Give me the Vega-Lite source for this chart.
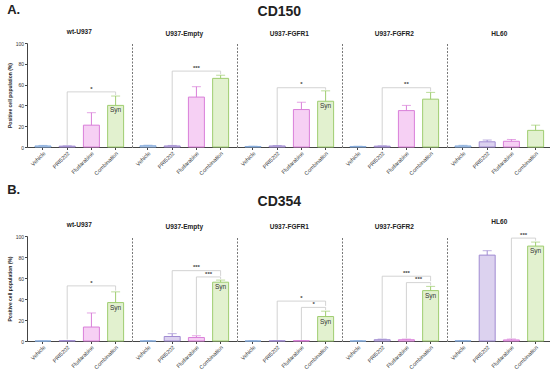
{
"$schema":"https://vega.github.io/schema/vega-lite/v6.json",
"padding":{"left":7,"top":3,"right":0,"bottom":0},
"background":"white",
"config":{"font":"Liberation Sans","view":{"stroke":null},
 "title":{"fontSize":6.5,"fontWeight":"bold","offset":6,"color":"#222"},
 "axis":{"domainColor":"#444","tickColor":"#444","labelColor":"#333","titleColor":"#222","grid":false,"domainWidth":1,"labelOverlap":false},
 "axisY":{"titleFontSize":5,"titleFontWeight":"bold","labelFontSize":5,"tickSize":2.5,"titlePadding":3,"labelPadding":1},
 "axisX":{"labelAngle":-45,"labelFontSize":5.5,"tickSize":2.5,"labelPadding":1,"title":null}},
"datasets":{
"bars":[
{"p":"A","g":"wt-U937","trt":"Vehicle","v":1,"hi":1.5},
{"p":"A","g":"wt-U937","trt":"PRI5202","v":0.8,"hi":1.1},
{"p":"A","g":"wt-U937","trt":"Fludarabine","v":21,"hi":33},
{"p":"A","g":"wt-U937","trt":"Combination","v":40,"hi":49,"syn":true},
{"p":"A","g":"U937-Empty","trt":"Vehicle","v":1.2,"hi":1.7},
{"p":"A","g":"U937-Empty","trt":"PRI5202","v":1,"hi":1.5},
{"p":"A","g":"U937-Empty","trt":"Fludarabine","v":48,"hi":58},
{"p":"A","g":"U937-Empty","trt":"Combination","v":66,"hi":69},
{"p":"A","g":"U937-FGFR1","trt":"Vehicle","v":0.5,"hi":0.8},
{"p":"A","g":"U937-FGFR1","trt":"PRI5202","v":1,"hi":1.4},
{"p":"A","g":"U937-FGFR1","trt":"Fludarabine","v":36,"hi":43},
{"p":"A","g":"U937-FGFR1","trt":"Combination","v":44,"hi":54,"syn":true},
{"p":"A","g":"U937-FGFR2","trt":"Vehicle","v":0.5,"hi":0.8},
{"p":"A","g":"U937-FGFR2","trt":"PRI5202","v":0.8,"hi":1.1},
{"p":"A","g":"U937-FGFR2","trt":"Fludarabine","v":35,"hi":40},
{"p":"A","g":"U937-FGFR2","trt":"Combination","v":46,"hi":52.5},
{"p":"A","g":"HL60","trt":"Vehicle","v":1,"hi":1.6},
{"p":"A","g":"HL60","trt":"PRI5202","v":5,"hi":6.7},
{"p":"A","g":"HL60","trt":"Fludarabine","v":5.5,"hi":7.3},
{"p":"A","g":"HL60","trt":"Combination","v":16,"hi":21},
{"p":"B","g":"wt-U937","trt":"Vehicle","v":0,"hi":0},
{"p":"B","g":"wt-U937","trt":"PRI5202","v":0.3,"hi":0.5},
{"p":"B","g":"wt-U937","trt":"Fludarabine","v":13.3,"hi":26.7},
{"p":"B","g":"wt-U937","trt":"Combination","v":36.6,"hi":46.8,"syn":true},
{"p":"B","g":"U937-Empty","trt":"Vehicle","v":0,"hi":0.2},
{"p":"B","g":"U937-Empty","trt":"PRI5202","v":4.3,"hi":7},
{"p":"B","g":"U937-Empty","trt":"Fludarabine","v":3.3,"hi":5},
{"p":"B","g":"U937-Empty","trt":"Combination","v":56,"hi":58,"syn":true},
{"p":"B","g":"U937-FGFR1","trt":"Vehicle","v":0,"hi":0.2},
{"p":"B","g":"U937-FGFR1","trt":"PRI5202","v":0.2,"hi":0.3},
{"p":"B","g":"U937-FGFR1","trt":"Fludarabine","v":0.3,"hi":0.5},
{"p":"B","g":"U937-FGFR1","trt":"Combination","v":23.3,"hi":28.4,"syn":true},
{"p":"B","g":"U937-FGFR2","trt":"Vehicle","v":0,"hi":0.2},
{"p":"B","g":"U937-FGFR2","trt":"PRI5202","v":1.2,"hi":1.8},
{"p":"B","g":"U937-FGFR2","trt":"Fludarabine","v":1.2,"hi":1.8},
{"p":"B","g":"U937-FGFR2","trt":"Combination","v":48,"hi":52,"syn":true},
{"p":"B","g":"HL60","trt":"Vehicle","v":0.2,"hi":0.3},
{"p":"B","g":"HL60","trt":"PRI5202","v":81.8,"hi":86},
{"p":"B","g":"HL60","trt":"Fludarabine","v":1,"hi":1.8},
{"p":"B","g":"HL60","trt":"Combination","v":90.4,"hi":94.2,"syn":true}
],
"br":[
{"p":"A","g":"wt-U937","from":"PRI5202","to":"Combination","y":53,"ly":2,"ry":50,"s":"*"},
{"p":"A","g":"U937-Empty","from":"PRI5202","to":"Combination","y":73,"ly":2,"ry":70,"s":"***"},
{"p":"A","g":"U937-FGFR1","from":"PRI5202","to":"Combination","y":57,"ly":2,"ry":55,"s":"*"},
{"p":"A","g":"U937-FGFR2","from":"PRI5202","to":"Combination","y":57,"ly":2,"ry":53.5,"s":"**"},
{"p":"B","g":"wt-U937","from":"PRI5202","to":"Combination","y":52.5,"ly":1.5,"ry":48,"s":"*"},
{"p":"B","g":"U937-Empty","from":"PRI5202","to":"Combination","y":67,"ly":8,"ry":62,"s":"***"},
{"p":"B","g":"U937-Empty","from":"Fludarabine","to":"Combination","y":61,"ly":6,"ry":59,"s":"***"},
{"p":"B","g":"U937-FGFR1","from":"PRI5202","to":"Combination","y":38,"ly":1,"ry":33.5,"s":"*"},
{"p":"B","g":"U937-FGFR1","from":"Fludarabine","to":"Combination","y":32,"ly":1,"ry":29.5,"s":"*"},
{"p":"B","g":"U937-FGFR2","from":"PRI5202","to":"Combination","y":61.7,"ly":2.5,"ry":57,"s":"***"},
{"p":"B","g":"U937-FGFR2","from":"Fludarabine","to":"Combination","y":55.6,"ly":2.5,"ry":53,"s":"***"},
{"p":"B","g":"HL60","from":"Fludarabine","to":"Combination","y":98,"ly":2.5,"ry":95.5,"s":"***"}
]},
"spacing":7,
"vconcat":[
{"title":{"text":"A.","anchor":"start","fontSize":13,"offset":-12},
 "vconcat":[{"title":{"text":"CD150","anchor":"middle","fontSize":14,"offset":10},"spacing":0,"hconcat":[
{"width":104.6,"height":104,"title":"wt-U937",
 "encoding":{"x":{"field":"trt","type":"nominal","scale":{"domain":["Vehicle","PRI5202","Fludarabine","Combination"],"paddingInner":0.34,"paddingOuter":0.33},"title":null}},
 "layer":[
  {"data":{"name":"bars"},"transform":[{"filter":"datum.p=='A' && datum.g=='wt-U937'"}],"layer":[
   {"mark":{"type":"bar","strokeWidth":1},"encoding":{"y":{"field":"v","type":"quantitative","scale":{"domain":[0,100]},"title":"Positive cell population (%)","axis":{"values":[0,20,40,60,80,100],"labelOverlap":false,"tickCount":6}},
     "fill":{"field":"trt","type":"nominal","scale":{"domain":["Vehicle","PRI5202","Fludarabine","Combination"],"range":["#cddff2","#dcd2ef","#f6d0f4","#e2f1cf"]},"legend":null},
     "stroke":{"field":"trt","type":"nominal","scale":{"domain":["Vehicle","PRI5202","Fludarabine","Combination"],"range":["#86abdc","#a08bd2","#d97fd9","#9fcd70"]},"legend":null}}},
   {"mark":{"type":"rule","strokeWidth":1},"encoding":{"y":{"field":"v","type":"quantitative","title":"Positive cell population (%)"},"y2":{"field":"hi"},"color":{"field":"trt","type":"nominal","scale":{"domain":["Vehicle","PRI5202","Fludarabine","Combination"],"range":["#86abdc","#a08bd2","#d97fd9","#9fcd70"]},"legend":null}}},
   {"mark":{"type":"tick","size":9,"thickness":1},"encoding":{"y":{"field":"hi","type":"quantitative","title":"Positive cell population (%)"},"color":{"field":"trt","type":"nominal","legend":null}}},
   {"transform":[{"filter":"datum.syn"}],"mark":{"type":"text","text":"Syn","baseline":"top","dy":2,"fontSize":6.5,"color":"#333"},"encoding":{"y":{"field":"v","type":"quantitative","title":"Positive cell population (%)"}}}
  ]},
  {"data":{"name":"br"},"transform":[{"filter":"datum.p=='A' && datum.g=='wt-U937'"}],"layer":[
   {"mark":{"type":"rule","color":"#c8c8c8","strokeWidth":0.8},"encoding":{"x":{"field":"from","type":"nominal","title":null},"x2":{"field":"to"},"y":{"field":"y","type":"quantitative","title":"Positive cell population (%)"}}},
   {"mark":{"type":"rule","color":"#c8c8c8","strokeWidth":0.8},"encoding":{"x":{"field":"from","type":"nominal","title":null},"y":{"field":"y","type":"quantitative","title":"Positive cell population (%)"},"y2":{"field":"ly"}}},
   {"mark":{"type":"rule","color":"#c8c8c8","strokeWidth":0.8},"encoding":{"x":{"field":"to","type":"nominal","title":null},"y":{"field":"y","type":"quantitative","title":"Positive cell population (%)"},"y2":{"field":"ry"}}},
   {"transform":[{"filter":"datum.from=='PRI5202'"}],"mark":{"type":"text","baseline":"bottom","dy":-0.3,"fontSize":6,"fontWeight":"bold","color":"#444"},"encoding":{"x":{"datum":"Fludarabine","type":"nominal","title":null},"y":{"field":"y","type":"quantitative","title":"Positive cell population (%)"},"text":{"field":"s"}}},
   {"transform":[{"filter":"datum.from=='Fludarabine'"}],"mark":{"type":"text","baseline":"bottom","dy":-0.3,"fontSize":6,"fontWeight":"bold","color":"#444"},"encoding":{"x":{"datum":"Fludarabine","type":"nominal","title":null,"bandPosition":1.26},"y":{"field":"y","type":"quantitative","title":"Positive cell population (%)"},"text":{"field":"s"}}}
  ]}
 ]},
{"width":104.6,"height":104,"title":"U937-Empty",
 "encoding":{"x":{"field":"trt","type":"nominal","scale":{"domain":["Vehicle","PRI5202","Fludarabine","Combination"],"paddingInner":0.34,"paddingOuter":0.33},"title":null}},
 "layer":[
  {"data":{"name":"bars"},"transform":[{"filter":"datum.p=='A' && datum.g=='U937-Empty'"}],"layer":[
   {"mark":{"type":"bar","strokeWidth":1},"encoding":{"y":{"field":"v","type":"quantitative","scale":{"domain":[0,100]},"title":null,"axis":{"labels":false,"ticks":false,"domainDash":[2,1.5],"domainColor":"#777"}},
     "fill":{"field":"trt","type":"nominal","scale":{"domain":["Vehicle","PRI5202","Fludarabine","Combination"],"range":["#cddff2","#dcd2ef","#f6d0f4","#e2f1cf"]},"legend":null},
     "stroke":{"field":"trt","type":"nominal","scale":{"domain":["Vehicle","PRI5202","Fludarabine","Combination"],"range":["#86abdc","#a08bd2","#d97fd9","#9fcd70"]},"legend":null}}},
   {"mark":{"type":"rule","strokeWidth":1},"encoding":{"y":{"field":"v","type":"quantitative","title":null},"y2":{"field":"hi"},"color":{"field":"trt","type":"nominal","scale":{"domain":["Vehicle","PRI5202","Fludarabine","Combination"],"range":["#86abdc","#a08bd2","#d97fd9","#9fcd70"]},"legend":null}}},
   {"mark":{"type":"tick","size":9,"thickness":1},"encoding":{"y":{"field":"hi","type":"quantitative","title":null},"color":{"field":"trt","type":"nominal","legend":null}}},
   {"transform":[{"filter":"datum.syn"}],"mark":{"type":"text","text":"Syn","baseline":"top","dy":2,"fontSize":6.5,"color":"#333"},"encoding":{"y":{"field":"v","type":"quantitative","title":null}}}
  ]},
  {"data":{"name":"br"},"transform":[{"filter":"datum.p=='A' && datum.g=='U937-Empty'"}],"layer":[
   {"mark":{"type":"rule","color":"#c8c8c8","strokeWidth":0.8},"encoding":{"x":{"field":"from","type":"nominal","title":null},"x2":{"field":"to"},"y":{"field":"y","type":"quantitative","title":null}}},
   {"mark":{"type":"rule","color":"#c8c8c8","strokeWidth":0.8},"encoding":{"x":{"field":"from","type":"nominal","title":null},"y":{"field":"y","type":"quantitative","title":null},"y2":{"field":"ly"}}},
   {"mark":{"type":"rule","color":"#c8c8c8","strokeWidth":0.8},"encoding":{"x":{"field":"to","type":"nominal","title":null},"y":{"field":"y","type":"quantitative","title":null},"y2":{"field":"ry"}}},
   {"transform":[{"filter":"datum.from=='PRI5202'"}],"mark":{"type":"text","baseline":"bottom","dy":-0.3,"fontSize":6,"fontWeight":"bold","color":"#444"},"encoding":{"x":{"datum":"Fludarabine","type":"nominal","title":null},"y":{"field":"y","type":"quantitative","title":null},"text":{"field":"s"}}},
   {"transform":[{"filter":"datum.from=='Fludarabine'"}],"mark":{"type":"text","baseline":"bottom","dy":-0.3,"fontSize":6,"fontWeight":"bold","color":"#444"},"encoding":{"x":{"datum":"Fludarabine","type":"nominal","title":null,"bandPosition":1.26},"y":{"field":"y","type":"quantitative","title":null},"text":{"field":"s"}}}
  ]}
 ]},
{"width":104.6,"height":104,"title":"U937-FGFR1",
 "encoding":{"x":{"field":"trt","type":"nominal","scale":{"domain":["Vehicle","PRI5202","Fludarabine","Combination"],"paddingInner":0.34,"paddingOuter":0.33},"title":null}},
 "layer":[
  {"data":{"name":"bars"},"transform":[{"filter":"datum.p=='A' && datum.g=='U937-FGFR1'"}],"layer":[
   {"mark":{"type":"bar","strokeWidth":1},"encoding":{"y":{"field":"v","type":"quantitative","scale":{"domain":[0,100]},"title":null,"axis":{"labels":false,"ticks":false,"domainDash":[2,1.5],"domainColor":"#777"}},
     "fill":{"field":"trt","type":"nominal","scale":{"domain":["Vehicle","PRI5202","Fludarabine","Combination"],"range":["#cddff2","#dcd2ef","#f6d0f4","#e2f1cf"]},"legend":null},
     "stroke":{"field":"trt","type":"nominal","scale":{"domain":["Vehicle","PRI5202","Fludarabine","Combination"],"range":["#86abdc","#a08bd2","#d97fd9","#9fcd70"]},"legend":null}}},
   {"mark":{"type":"rule","strokeWidth":1},"encoding":{"y":{"field":"v","type":"quantitative","title":null},"y2":{"field":"hi"},"color":{"field":"trt","type":"nominal","scale":{"domain":["Vehicle","PRI5202","Fludarabine","Combination"],"range":["#86abdc","#a08bd2","#d97fd9","#9fcd70"]},"legend":null}}},
   {"mark":{"type":"tick","size":9,"thickness":1},"encoding":{"y":{"field":"hi","type":"quantitative","title":null},"color":{"field":"trt","type":"nominal","legend":null}}},
   {"transform":[{"filter":"datum.syn"}],"mark":{"type":"text","text":"Syn","baseline":"top","dy":2,"fontSize":6.5,"color":"#333"},"encoding":{"y":{"field":"v","type":"quantitative","title":null}}}
  ]},
  {"data":{"name":"br"},"transform":[{"filter":"datum.p=='A' && datum.g=='U937-FGFR1'"}],"layer":[
   {"mark":{"type":"rule","color":"#c8c8c8","strokeWidth":0.8},"encoding":{"x":{"field":"from","type":"nominal","title":null},"x2":{"field":"to"},"y":{"field":"y","type":"quantitative","title":null}}},
   {"mark":{"type":"rule","color":"#c8c8c8","strokeWidth":0.8},"encoding":{"x":{"field":"from","type":"nominal","title":null},"y":{"field":"y","type":"quantitative","title":null},"y2":{"field":"ly"}}},
   {"mark":{"type":"rule","color":"#c8c8c8","strokeWidth":0.8},"encoding":{"x":{"field":"to","type":"nominal","title":null},"y":{"field":"y","type":"quantitative","title":null},"y2":{"field":"ry"}}},
   {"transform":[{"filter":"datum.from=='PRI5202'"}],"mark":{"type":"text","baseline":"bottom","dy":-0.3,"fontSize":6,"fontWeight":"bold","color":"#444"},"encoding":{"x":{"datum":"Fludarabine","type":"nominal","title":null},"y":{"field":"y","type":"quantitative","title":null},"text":{"field":"s"}}},
   {"transform":[{"filter":"datum.from=='Fludarabine'"}],"mark":{"type":"text","baseline":"bottom","dy":-0.3,"fontSize":6,"fontWeight":"bold","color":"#444"},"encoding":{"x":{"datum":"Fludarabine","type":"nominal","title":null,"bandPosition":1.26},"y":{"field":"y","type":"quantitative","title":null},"text":{"field":"s"}}}
  ]}
 ]},
{"width":104.6,"height":104,"title":"U937-FGFR2",
 "encoding":{"x":{"field":"trt","type":"nominal","scale":{"domain":["Vehicle","PRI5202","Fludarabine","Combination"],"paddingInner":0.34,"paddingOuter":0.33},"title":null}},
 "layer":[
  {"data":{"name":"bars"},"transform":[{"filter":"datum.p=='A' && datum.g=='U937-FGFR2'"}],"layer":[
   {"mark":{"type":"bar","strokeWidth":1},"encoding":{"y":{"field":"v","type":"quantitative","scale":{"domain":[0,100]},"title":null,"axis":{"labels":false,"ticks":false,"domainDash":[2,1.5],"domainColor":"#777"}},
     "fill":{"field":"trt","type":"nominal","scale":{"domain":["Vehicle","PRI5202","Fludarabine","Combination"],"range":["#cddff2","#dcd2ef","#f6d0f4","#e2f1cf"]},"legend":null},
     "stroke":{"field":"trt","type":"nominal","scale":{"domain":["Vehicle","PRI5202","Fludarabine","Combination"],"range":["#86abdc","#a08bd2","#d97fd9","#9fcd70"]},"legend":null}}},
   {"mark":{"type":"rule","strokeWidth":1},"encoding":{"y":{"field":"v","type":"quantitative","title":null},"y2":{"field":"hi"},"color":{"field":"trt","type":"nominal","scale":{"domain":["Vehicle","PRI5202","Fludarabine","Combination"],"range":["#86abdc","#a08bd2","#d97fd9","#9fcd70"]},"legend":null}}},
   {"mark":{"type":"tick","size":9,"thickness":1},"encoding":{"y":{"field":"hi","type":"quantitative","title":null},"color":{"field":"trt","type":"nominal","legend":null}}},
   {"transform":[{"filter":"datum.syn"}],"mark":{"type":"text","text":"Syn","baseline":"top","dy":2,"fontSize":6.5,"color":"#333"},"encoding":{"y":{"field":"v","type":"quantitative","title":null}}}
  ]},
  {"data":{"name":"br"},"transform":[{"filter":"datum.p=='A' && datum.g=='U937-FGFR2'"}],"layer":[
   {"mark":{"type":"rule","color":"#c8c8c8","strokeWidth":0.8},"encoding":{"x":{"field":"from","type":"nominal","title":null},"x2":{"field":"to"},"y":{"field":"y","type":"quantitative","title":null}}},
   {"mark":{"type":"rule","color":"#c8c8c8","strokeWidth":0.8},"encoding":{"x":{"field":"from","type":"nominal","title":null},"y":{"field":"y","type":"quantitative","title":null},"y2":{"field":"ly"}}},
   {"mark":{"type":"rule","color":"#c8c8c8","strokeWidth":0.8},"encoding":{"x":{"field":"to","type":"nominal","title":null},"y":{"field":"y","type":"quantitative","title":null},"y2":{"field":"ry"}}},
   {"transform":[{"filter":"datum.from=='PRI5202'"}],"mark":{"type":"text","baseline":"bottom","dy":-0.3,"fontSize":6,"fontWeight":"bold","color":"#444"},"encoding":{"x":{"datum":"Fludarabine","type":"nominal","title":null},"y":{"field":"y","type":"quantitative","title":null},"text":{"field":"s"}}},
   {"transform":[{"filter":"datum.from=='Fludarabine'"}],"mark":{"type":"text","baseline":"bottom","dy":-0.3,"fontSize":6,"fontWeight":"bold","color":"#444"},"encoding":{"x":{"datum":"Fludarabine","type":"nominal","title":null,"bandPosition":1.26},"y":{"field":"y","type":"quantitative","title":null},"text":{"field":"s"}}}
  ]}
 ]},
{"width":104.6,"height":104,"title":"HL60",
 "encoding":{"x":{"field":"trt","type":"nominal","scale":{"domain":["Vehicle","PRI5202","Fludarabine","Combination"],"paddingInner":0.34,"paddingOuter":0.33},"title":null}},
 "layer":[
  {"data":{"name":"bars"},"transform":[{"filter":"datum.p=='A' && datum.g=='HL60'"}],"layer":[
   {"mark":{"type":"bar","strokeWidth":1},"encoding":{"y":{"field":"v","type":"quantitative","scale":{"domain":[0,100]},"title":null,"axis":{"labels":false,"ticks":false,"domainDash":[2,1.5],"domainColor":"#777"}},
     "fill":{"field":"trt","type":"nominal","scale":{"domain":["Vehicle","PRI5202","Fludarabine","Combination"],"range":["#cddff2","#dcd2ef","#f6d0f4","#e2f1cf"]},"legend":null},
     "stroke":{"field":"trt","type":"nominal","scale":{"domain":["Vehicle","PRI5202","Fludarabine","Combination"],"range":["#86abdc","#a08bd2","#d97fd9","#9fcd70"]},"legend":null}}},
   {"mark":{"type":"rule","strokeWidth":1},"encoding":{"y":{"field":"v","type":"quantitative","title":null},"y2":{"field":"hi"},"color":{"field":"trt","type":"nominal","scale":{"domain":["Vehicle","PRI5202","Fludarabine","Combination"],"range":["#86abdc","#a08bd2","#d97fd9","#9fcd70"]},"legend":null}}},
   {"mark":{"type":"tick","size":9,"thickness":1},"encoding":{"y":{"field":"hi","type":"quantitative","title":null},"color":{"field":"trt","type":"nominal","legend":null}}}
  ]}
 ]}
]}]},
{"title":{"text":"B.","anchor":"start","fontSize":13,"offset":-2},
 "vconcat":[{"title":{"text":"CD354","anchor":"middle","fontSize":14,"offset":10},"spacing":0,"hconcat":[
{"width":104.6,"height":105,"title":"wt-U937",
 "encoding":{"x":{"field":"trt","type":"nominal","scale":{"domain":["Vehicle","PRI5202","Fludarabine","Combination"],"paddingInner":0.34,"paddingOuter":0.33},"title":null}},
 "layer":[
  {"data":{"name":"bars"},"transform":[{"filter":"datum.p=='B' && datum.g=='wt-U937'"}],"layer":[
   {"mark":{"type":"bar","strokeWidth":1},"encoding":{"y":{"field":"v","type":"quantitative","scale":{"domain":[0,100]},"title":"Positive cell population (%)","axis":{"values":[0,20,40,60,80,100],"labelOverlap":false,"tickCount":6}},
     "fill":{"field":"trt","type":"nominal","scale":{"domain":["Vehicle","PRI5202","Fludarabine","Combination"],"range":["#cddff2","#dcd2ef","#f6d0f4","#e2f1cf"]},"legend":null},
     "stroke":{"field":"trt","type":"nominal","scale":{"domain":["Vehicle","PRI5202","Fludarabine","Combination"],"range":["#86abdc","#a08bd2","#d97fd9","#9fcd70"]},"legend":null}}},
   {"mark":{"type":"rule","strokeWidth":1},"encoding":{"y":{"field":"v","type":"quantitative","title":"Positive cell population (%)"},"y2":{"field":"hi"},"color":{"field":"trt","type":"nominal","scale":{"domain":["Vehicle","PRI5202","Fludarabine","Combination"],"range":["#86abdc","#a08bd2","#d97fd9","#9fcd70"]},"legend":null}}},
   {"mark":{"type":"tick","size":9,"thickness":1},"encoding":{"y":{"field":"hi","type":"quantitative","title":"Positive cell population (%)"},"color":{"field":"trt","type":"nominal","legend":null}}},
   {"transform":[{"filter":"datum.syn"}],"mark":{"type":"text","text":"Syn","baseline":"top","dy":2,"fontSize":6.5,"color":"#333"},"encoding":{"y":{"field":"v","type":"quantitative","title":"Positive cell population (%)"}}}
  ]},
  {"data":{"name":"br"},"transform":[{"filter":"datum.p=='B' && datum.g=='wt-U937'"}],"layer":[
   {"mark":{"type":"rule","color":"#c8c8c8","strokeWidth":0.8},"encoding":{"x":{"field":"from","type":"nominal","title":null},"x2":{"field":"to"},"y":{"field":"y","type":"quantitative","title":"Positive cell population (%)"}}},
   {"mark":{"type":"rule","color":"#c8c8c8","strokeWidth":0.8},"encoding":{"x":{"field":"from","type":"nominal","title":null},"y":{"field":"y","type":"quantitative","title":"Positive cell population (%)"},"y2":{"field":"ly"}}},
   {"mark":{"type":"rule","color":"#c8c8c8","strokeWidth":0.8},"encoding":{"x":{"field":"to","type":"nominal","title":null},"y":{"field":"y","type":"quantitative","title":"Positive cell population (%)"},"y2":{"field":"ry"}}},
   {"transform":[{"filter":"datum.from=='PRI5202'"}],"mark":{"type":"text","baseline":"bottom","dy":-0.3,"fontSize":6,"fontWeight":"bold","color":"#444"},"encoding":{"x":{"datum":"Fludarabine","type":"nominal","title":null},"y":{"field":"y","type":"quantitative","title":"Positive cell population (%)"},"text":{"field":"s"}}},
   {"transform":[{"filter":"datum.from=='Fludarabine'"}],"mark":{"type":"text","baseline":"bottom","dy":-0.3,"fontSize":6,"fontWeight":"bold","color":"#444"},"encoding":{"x":{"datum":"Fludarabine","type":"nominal","title":null,"bandPosition":1.26},"y":{"field":"y","type":"quantitative","title":"Positive cell population (%)"},"text":{"field":"s"}}}
  ]}
 ]},
{"width":104.6,"height":105,"title":"U937-Empty",
 "encoding":{"x":{"field":"trt","type":"nominal","scale":{"domain":["Vehicle","PRI5202","Fludarabine","Combination"],"paddingInner":0.34,"paddingOuter":0.33},"title":null}},
 "layer":[
  {"data":{"name":"bars"},"transform":[{"filter":"datum.p=='B' && datum.g=='U937-Empty'"}],"layer":[
   {"mark":{"type":"bar","strokeWidth":1},"encoding":{"y":{"field":"v","type":"quantitative","scale":{"domain":[0,100]},"title":null,"axis":{"labels":false,"ticks":false,"domainDash":[2,1.5],"domainColor":"#777"}},
     "fill":{"field":"trt","type":"nominal","scale":{"domain":["Vehicle","PRI5202","Fludarabine","Combination"],"range":["#cddff2","#dcd2ef","#f6d0f4","#e2f1cf"]},"legend":null},
     "stroke":{"field":"trt","type":"nominal","scale":{"domain":["Vehicle","PRI5202","Fludarabine","Combination"],"range":["#86abdc","#a08bd2","#d97fd9","#9fcd70"]},"legend":null}}},
   {"mark":{"type":"rule","strokeWidth":1},"encoding":{"y":{"field":"v","type":"quantitative","title":null},"y2":{"field":"hi"},"color":{"field":"trt","type":"nominal","scale":{"domain":["Vehicle","PRI5202","Fludarabine","Combination"],"range":["#86abdc","#a08bd2","#d97fd9","#9fcd70"]},"legend":null}}},
   {"mark":{"type":"tick","size":9,"thickness":1},"encoding":{"y":{"field":"hi","type":"quantitative","title":null},"color":{"field":"trt","type":"nominal","legend":null}}},
   {"transform":[{"filter":"datum.syn"}],"mark":{"type":"text","text":"Syn","baseline":"top","dy":2,"fontSize":6.5,"color":"#333"},"encoding":{"y":{"field":"v","type":"quantitative","title":null}}}
  ]},
  {"data":{"name":"br"},"transform":[{"filter":"datum.p=='B' && datum.g=='U937-Empty'"}],"layer":[
   {"mark":{"type":"rule","color":"#c8c8c8","strokeWidth":0.8},"encoding":{"x":{"field":"from","type":"nominal","title":null},"x2":{"field":"to"},"y":{"field":"y","type":"quantitative","title":null}}},
   {"mark":{"type":"rule","color":"#c8c8c8","strokeWidth":0.8},"encoding":{"x":{"field":"from","type":"nominal","title":null},"y":{"field":"y","type":"quantitative","title":null},"y2":{"field":"ly"}}},
   {"mark":{"type":"rule","color":"#c8c8c8","strokeWidth":0.8},"encoding":{"x":{"field":"to","type":"nominal","title":null},"y":{"field":"y","type":"quantitative","title":null},"y2":{"field":"ry"}}},
   {"transform":[{"filter":"datum.from=='PRI5202'"}],"mark":{"type":"text","baseline":"bottom","dy":-0.3,"fontSize":6,"fontWeight":"bold","color":"#444"},"encoding":{"x":{"datum":"Fludarabine","type":"nominal","title":null},"y":{"field":"y","type":"quantitative","title":null},"text":{"field":"s"}}},
   {"transform":[{"filter":"datum.from=='Fludarabine'"}],"mark":{"type":"text","baseline":"bottom","dy":-0.3,"fontSize":6,"fontWeight":"bold","color":"#444"},"encoding":{"x":{"datum":"Fludarabine","type":"nominal","title":null,"bandPosition":1.26},"y":{"field":"y","type":"quantitative","title":null},"text":{"field":"s"}}}
  ]}
 ]},
{"width":104.6,"height":105,"title":"U937-FGFR1",
 "encoding":{"x":{"field":"trt","type":"nominal","scale":{"domain":["Vehicle","PRI5202","Fludarabine","Combination"],"paddingInner":0.34,"paddingOuter":0.33},"title":null}},
 "layer":[
  {"data":{"name":"bars"},"transform":[{"filter":"datum.p=='B' && datum.g=='U937-FGFR1'"}],"layer":[
   {"mark":{"type":"bar","strokeWidth":1},"encoding":{"y":{"field":"v","type":"quantitative","scale":{"domain":[0,100]},"title":null,"axis":{"labels":false,"ticks":false,"domainDash":[2,1.5],"domainColor":"#777"}},
     "fill":{"field":"trt","type":"nominal","scale":{"domain":["Vehicle","PRI5202","Fludarabine","Combination"],"range":["#cddff2","#dcd2ef","#f6d0f4","#e2f1cf"]},"legend":null},
     "stroke":{"field":"trt","type":"nominal","scale":{"domain":["Vehicle","PRI5202","Fludarabine","Combination"],"range":["#86abdc","#a08bd2","#d97fd9","#9fcd70"]},"legend":null}}},
   {"mark":{"type":"rule","strokeWidth":1},"encoding":{"y":{"field":"v","type":"quantitative","title":null},"y2":{"field":"hi"},"color":{"field":"trt","type":"nominal","scale":{"domain":["Vehicle","PRI5202","Fludarabine","Combination"],"range":["#86abdc","#a08bd2","#d97fd9","#9fcd70"]},"legend":null}}},
   {"mark":{"type":"tick","size":9,"thickness":1},"encoding":{"y":{"field":"hi","type":"quantitative","title":null},"color":{"field":"trt","type":"nominal","legend":null}}},
   {"transform":[{"filter":"datum.syn"}],"mark":{"type":"text","text":"Syn","baseline":"top","dy":2,"fontSize":6.5,"color":"#333"},"encoding":{"y":{"field":"v","type":"quantitative","title":null}}}
  ]},
  {"data":{"name":"br"},"transform":[{"filter":"datum.p=='B' && datum.g=='U937-FGFR1'"}],"layer":[
   {"mark":{"type":"rule","color":"#c8c8c8","strokeWidth":0.8},"encoding":{"x":{"field":"from","type":"nominal","title":null},"x2":{"field":"to"},"y":{"field":"y","type":"quantitative","title":null}}},
   {"mark":{"type":"rule","color":"#c8c8c8","strokeWidth":0.8},"encoding":{"x":{"field":"from","type":"nominal","title":null},"y":{"field":"y","type":"quantitative","title":null},"y2":{"field":"ly"}}},
   {"mark":{"type":"rule","color":"#c8c8c8","strokeWidth":0.8},"encoding":{"x":{"field":"to","type":"nominal","title":null},"y":{"field":"y","type":"quantitative","title":null},"y2":{"field":"ry"}}},
   {"transform":[{"filter":"datum.from=='PRI5202'"}],"mark":{"type":"text","baseline":"bottom","dy":-0.3,"fontSize":6,"fontWeight":"bold","color":"#444"},"encoding":{"x":{"datum":"Fludarabine","type":"nominal","title":null},"y":{"field":"y","type":"quantitative","title":null},"text":{"field":"s"}}},
   {"transform":[{"filter":"datum.from=='Fludarabine'"}],"mark":{"type":"text","baseline":"bottom","dy":-0.3,"fontSize":6,"fontWeight":"bold","color":"#444"},"encoding":{"x":{"datum":"Fludarabine","type":"nominal","title":null,"bandPosition":1.26},"y":{"field":"y","type":"quantitative","title":null},"text":{"field":"s"}}}
  ]}
 ]},
{"width":104.6,"height":105,"title":"U937-FGFR2",
 "encoding":{"x":{"field":"trt","type":"nominal","scale":{"domain":["Vehicle","PRI5202","Fludarabine","Combination"],"paddingInner":0.34,"paddingOuter":0.33},"title":null}},
 "layer":[
  {"data":{"name":"bars"},"transform":[{"filter":"datum.p=='B' && datum.g=='U937-FGFR2'"}],"layer":[
   {"mark":{"type":"bar","strokeWidth":1},"encoding":{"y":{"field":"v","type":"quantitative","scale":{"domain":[0,100]},"title":null,"axis":{"labels":false,"ticks":false,"domainDash":[2,1.5],"domainColor":"#777"}},
     "fill":{"field":"trt","type":"nominal","scale":{"domain":["Vehicle","PRI5202","Fludarabine","Combination"],"range":["#cddff2","#dcd2ef","#f6d0f4","#e2f1cf"]},"legend":null},
     "stroke":{"field":"trt","type":"nominal","scale":{"domain":["Vehicle","PRI5202","Fludarabine","Combination"],"range":["#86abdc","#a08bd2","#d97fd9","#9fcd70"]},"legend":null}}},
   {"mark":{"type":"rule","strokeWidth":1},"encoding":{"y":{"field":"v","type":"quantitative","title":null},"y2":{"field":"hi"},"color":{"field":"trt","type":"nominal","scale":{"domain":["Vehicle","PRI5202","Fludarabine","Combination"],"range":["#86abdc","#a08bd2","#d97fd9","#9fcd70"]},"legend":null}}},
   {"mark":{"type":"tick","size":9,"thickness":1},"encoding":{"y":{"field":"hi","type":"quantitative","title":null},"color":{"field":"trt","type":"nominal","legend":null}}},
   {"transform":[{"filter":"datum.syn"}],"mark":{"type":"text","text":"Syn","baseline":"top","dy":2,"fontSize":6.5,"color":"#333"},"encoding":{"y":{"field":"v","type":"quantitative","title":null}}}
  ]},
  {"data":{"name":"br"},"transform":[{"filter":"datum.p=='B' && datum.g=='U937-FGFR2'"}],"layer":[
   {"mark":{"type":"rule","color":"#c8c8c8","strokeWidth":0.8},"encoding":{"x":{"field":"from","type":"nominal","title":null},"x2":{"field":"to"},"y":{"field":"y","type":"quantitative","title":null}}},
   {"mark":{"type":"rule","color":"#c8c8c8","strokeWidth":0.8},"encoding":{"x":{"field":"from","type":"nominal","title":null},"y":{"field":"y","type":"quantitative","title":null},"y2":{"field":"ly"}}},
   {"mark":{"type":"rule","color":"#c8c8c8","strokeWidth":0.8},"encoding":{"x":{"field":"to","type":"nominal","title":null},"y":{"field":"y","type":"quantitative","title":null},"y2":{"field":"ry"}}},
   {"transform":[{"filter":"datum.from=='PRI5202'"}],"mark":{"type":"text","baseline":"bottom","dy":-0.3,"fontSize":6,"fontWeight":"bold","color":"#444"},"encoding":{"x":{"datum":"Fludarabine","type":"nominal","title":null},"y":{"field":"y","type":"quantitative","title":null},"text":{"field":"s"}}},
   {"transform":[{"filter":"datum.from=='Fludarabine'"}],"mark":{"type":"text","baseline":"bottom","dy":-0.3,"fontSize":6,"fontWeight":"bold","color":"#444"},"encoding":{"x":{"datum":"Fludarabine","type":"nominal","title":null,"bandPosition":1.26},"y":{"field":"y","type":"quantitative","title":null},"text":{"field":"s"}}}
  ]}
 ]},
{"width":104.6,"height":105,"title":"HL60",
 "encoding":{"x":{"field":"trt","type":"nominal","scale":{"domain":["Vehicle","PRI5202","Fludarabine","Combination"],"paddingInner":0.34,"paddingOuter":0.33},"title":null}},
 "layer":[
  {"data":{"name":"bars"},"transform":[{"filter":"datum.p=='B' && datum.g=='HL60'"}],"layer":[
   {"mark":{"type":"bar","strokeWidth":1},"encoding":{"y":{"field":"v","type":"quantitative","scale":{"domain":[0,100]},"title":null,"axis":{"labels":false,"ticks":false,"domainDash":[2,1.5],"domainColor":"#777"}},
     "fill":{"field":"trt","type":"nominal","scale":{"domain":["Vehicle","PRI5202","Fludarabine","Combination"],"range":["#cddff2","#dcd2ef","#f6d0f4","#e2f1cf"]},"legend":null},
     "stroke":{"field":"trt","type":"nominal","scale":{"domain":["Vehicle","PRI5202","Fludarabine","Combination"],"range":["#86abdc","#a08bd2","#d97fd9","#9fcd70"]},"legend":null}}},
   {"mark":{"type":"rule","strokeWidth":1},"encoding":{"y":{"field":"v","type":"quantitative","title":null},"y2":{"field":"hi"},"color":{"field":"trt","type":"nominal","scale":{"domain":["Vehicle","PRI5202","Fludarabine","Combination"],"range":["#86abdc","#a08bd2","#d97fd9","#9fcd70"]},"legend":null}}},
   {"mark":{"type":"tick","size":9,"thickness":1},"encoding":{"y":{"field":"hi","type":"quantitative","title":null},"color":{"field":"trt","type":"nominal","legend":null}}},
   {"transform":[{"filter":"datum.syn"}],"mark":{"type":"text","text":"Syn","baseline":"top","dy":2,"fontSize":6.5,"color":"#333"},"encoding":{"y":{"field":"v","type":"quantitative","title":null}}}
  ]},
  {"data":{"name":"br"},"transform":[{"filter":"datum.p=='B' && datum.g=='HL60'"}],"layer":[
   {"mark":{"type":"rule","color":"#c8c8c8","strokeWidth":0.8},"encoding":{"x":{"field":"from","type":"nominal","title":null},"x2":{"field":"to"},"y":{"field":"y","type":"quantitative","title":null}}},
   {"mark":{"type":"rule","color":"#c8c8c8","strokeWidth":0.8},"encoding":{"x":{"field":"from","type":"nominal","title":null},"y":{"field":"y","type":"quantitative","title":null},"y2":{"field":"ly"}}},
   {"mark":{"type":"rule","color":"#c8c8c8","strokeWidth":0.8},"encoding":{"x":{"field":"to","type":"nominal","title":null},"y":{"field":"y","type":"quantitative","title":null},"y2":{"field":"ry"}}},
   {"transform":[{"filter":"datum.from=='PRI5202'"}],"mark":{"type":"text","baseline":"bottom","dy":-0.3,"fontSize":6,"fontWeight":"bold","color":"#444"},"encoding":{"x":{"datum":"Fludarabine","type":"nominal","title":null},"y":{"field":"y","type":"quantitative","title":null},"text":{"field":"s"}}},
   {"transform":[{"filter":"datum.from=='Fludarabine'"}],"mark":{"type":"text","baseline":"bottom","dy":-0.3,"fontSize":6,"fontWeight":"bold","color":"#444"},"encoding":{"x":{"datum":"Fludarabine","type":"nominal","title":null,"bandPosition":1.26},"y":{"field":"y","type":"quantitative","title":null},"text":{"field":"s"}}}
  ]}
 ]}
]}]}
]
}
